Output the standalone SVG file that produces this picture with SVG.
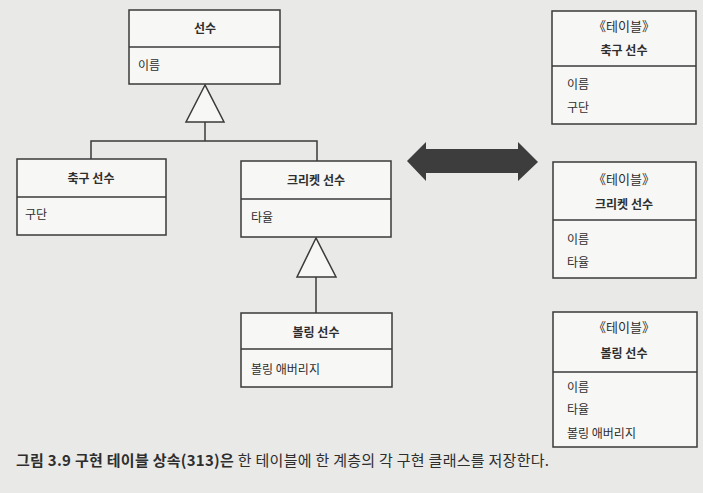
<svg xmlns="http://www.w3.org/2000/svg" width="703" height="493" viewBox="0 0 703 493">
<style>
.box{fill:#f7f7f5;stroke:#3a3a3a;stroke-width:1.5}
.ln{fill:none;stroke:#3a3a3a;stroke-width:1.5}
.tri{fill:#f7f7f5;stroke:#3a3a3a;stroke-width:1.5}
text{font-family:"Noto Sans CJK KR","Noto Sans",sans-serif;fill:#2e2e2e;font-size:12px}
.t{text-anchor:middle;font-weight:bold}
.s{text-anchor:middle;font-size:13px}
.cap{font-size:15px}
</style>
<rect width="703" height="493" fill="#e9e9e7"/>
<g id="connectors">
<polyline class="ln" points="91,159 91,141 317,141 317,161"/>
<line class="ln" x1="205" y1="122" x2="205" y2="141"/>
<polygon class="tri" points="205,85 186,122 224,122"/>
<line class="ln" x1="316" y1="277" x2="316" y2="313"/>
<polygon class="tri" points="316,238 297,277 336,277"/>
<polygon fill="#3d3d3d" points="407,161 426,142 426,149 518,149 518,142 538,162 518,181 518,173 426,173 426,181"/>
</g>
<g id="player">
<rect class="box" x="129" y="10" width="151" height="74"/>
<line class="ln" x1="129" y1="47" x2="280" y2="47"/>
<text class="t" x="205" y="33">선수</text>
<text x="138" y="70">이름</text>
</g>
<g id="football">
<rect class="box" x="17" y="159" width="149" height="76"/>
<line class="ln" x1="17" y1="197" x2="166" y2="197"/>
<text class="t" x="91" y="183">축구 선수</text>
<text x="25" y="219">구단</text>
</g>
<g id="cricket">
<rect class="box" x="241" y="161" width="150" height="76"/>
<line class="ln" x1="241" y1="199" x2="391" y2="199"/>
<text class="t" x="316" y="185">크리켓 선수</text>
<text x="251" y="222">타율</text>
</g>
<g id="bowling">
<rect class="box" x="241" y="313" width="151" height="74"/>
<line class="ln" x1="241" y1="349" x2="392" y2="349"/>
<text class="t" x="316" y="337">볼링 선수</text>
<text x="251" y="374">볼링 애버리지</text>
</g>
<g id="table-football">
<rect class="box" x="552" y="11" width="144" height="113"/>
<line class="ln" x1="552" y1="66" x2="696" y2="66"/>
<text class="s" x="624" y="31">《테이블》</text>
<text class="t" x="624" y="55">축구 선수</text>
<text x="567" y="89">이름</text>
<text x="567" y="112">구단</text>
</g>
<g id="table-cricket">
<rect class="box" x="553" y="162" width="143" height="116"/>
<line class="ln" x1="553" y1="220" x2="696" y2="220"/>
<text class="s" x="624" y="184">《테이블》</text>
<text class="t" x="624" y="209">크리켓 선수</text>
<text x="567" y="244">이름</text>
<text x="567" y="267">타율</text>
</g>
<g id="table-bowling">
<rect class="box" x="553" y="312" width="144" height="135"/>
<line class="ln" x1="553" y1="372" x2="697" y2="372"/>
<text class="s" x="624" y="332">《테이블》</text>
<text class="t" x="624" y="358">볼링 선수</text>
<text x="567" y="392">이름</text>
<text x="567" y="414">타율</text>
<text x="567" y="438">볼링 애버리지</text>
</g>
<text class="cap" x="16" y="466" textLength="533" lengthAdjust="spacing"><tspan font-weight="bold">그림 3.9 구현 테이블 상속(313)은</tspan> 한 테이블에 한 계층의 각 구현 클래스를 저장한다.</text>
</svg>
